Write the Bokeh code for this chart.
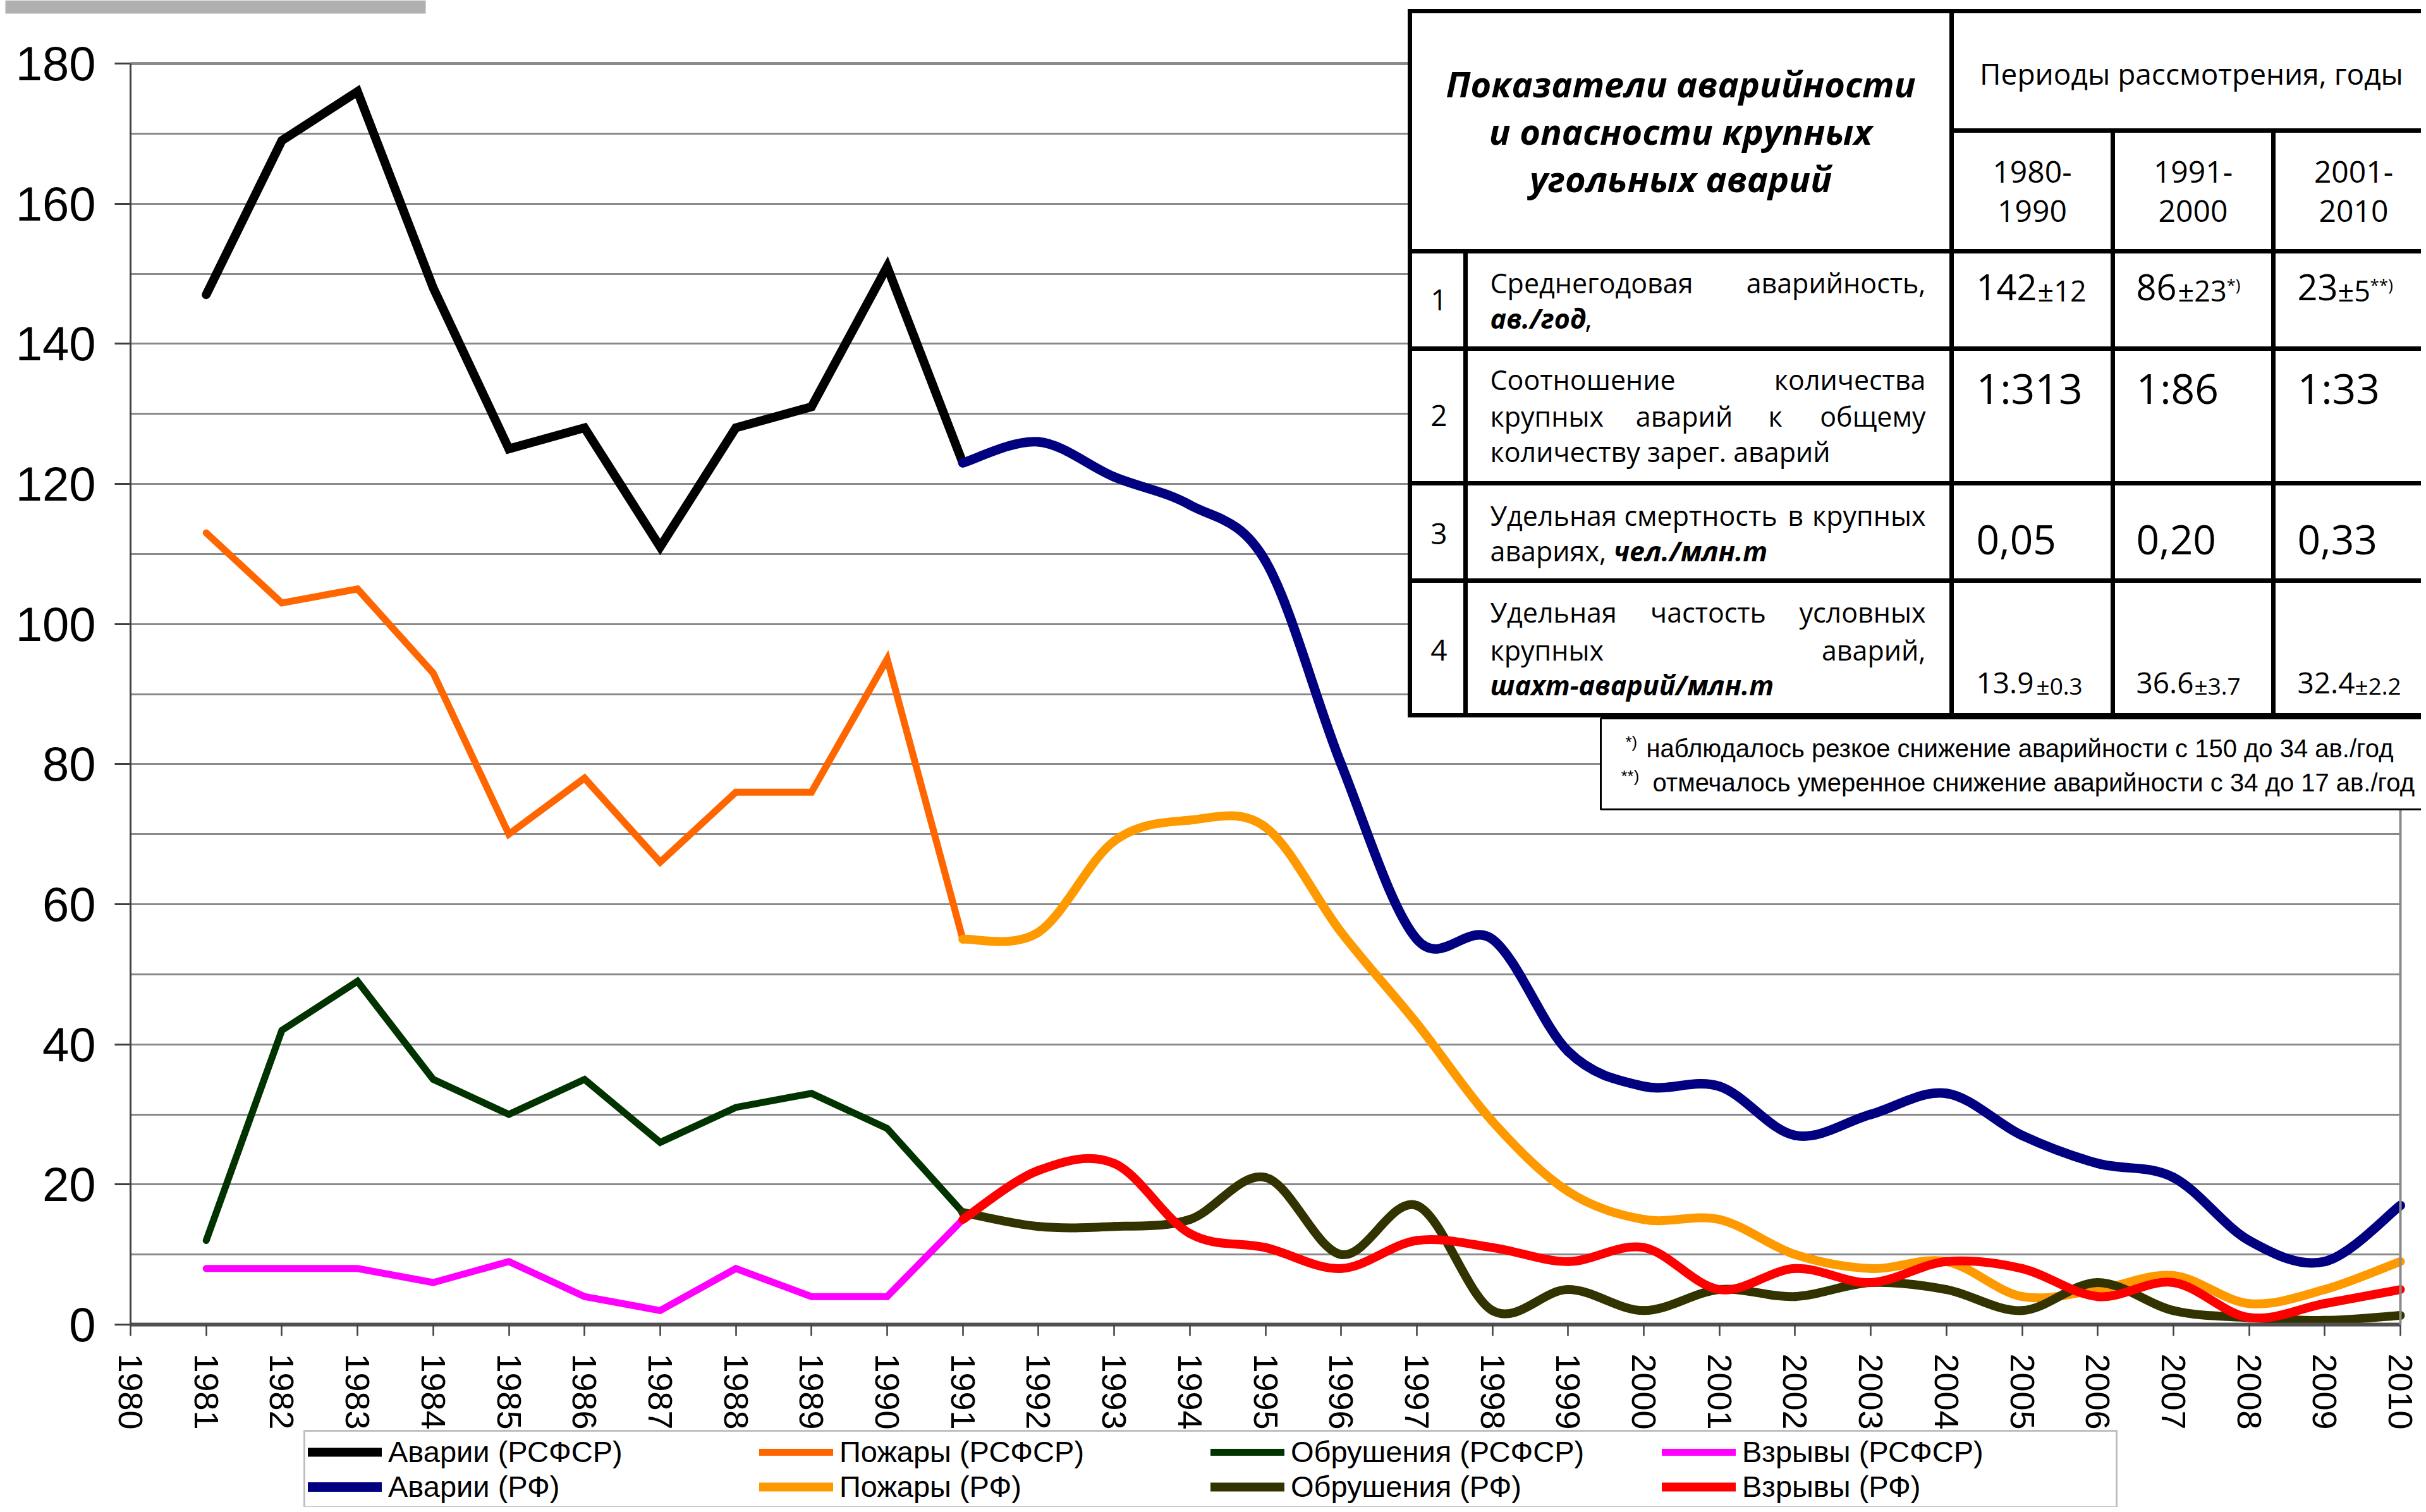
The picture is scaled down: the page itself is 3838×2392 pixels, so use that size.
from bokeh.plotting import figure
from bokeh.models import (Range1d, FixedTicker, Label, BoxAnnotation, Legend,
                          LegendItem, ColumnDataSource, LinearAxis)
from bokeh.embed import file_html
from bokeh.resources import INLINE

# ---------------- data ----------------
years_rsfsr = [1981, 1982, 1983, 1984, 1985, 1986, 1987, 1988, 1989, 1990, 1991]
years_rf = [1991, 1992, 1993, 1994, 1995, 1996, 1997, 1998, 1999, 2000,
            2001, 2002, 2003, 2004, 2005, 2006, 2007, 2008, 2009, 2010]

avarii_rsfsr = [147, 169, 176, 148, 125, 128, 111, 128, 131, 151, 123]
pozhary_rsfsr = [113, 103, 105, 93, 70, 78, 66, 76, 76, 95, 55]
obrush_rsfsr = [12, 42, 49, 35, 30, 35, 26, 31, 33, 28, 16]
vzryvy_rsfsr = [8, 8, 8, 6, 9, 4, 2, 8, 4, 4, 15]

avarii_rf = [123, 126, 121, 117, 109, 80, 55, 55, 39, 34, 34, 27, 30, 33, 27, 23, 21, 12, 9, 17]
pozhary_rf = [55, 56, 69, 72, 71, 56, 43, 29, 19, 15, 15, 10, 8, 9, 4, 5, 7, 3, 5, 9]
obrush_rf = [16, 14, 14, 15, 21, 10, 17, 2, 5, 2, 5, 4, 6, 5, 2, 6, 2, 1, 0.6, 1.3]
vzryvy_rf = [15, 22, 23, 13, 11, 8, 12, 11, 9, 11, 5, 8, 6, 9, 8, 4, 6, 1, 3, 5]

series_labels = ["Аварии (РСФСР)", "Пожары (РСФСР)", "Обрушения (РСФСР)", "Взрывы (РСФСР)",
                 "Аварии (РФ)", "Пожары (РФ)", "Обрушения (РФ)", "Взрывы (РФ)"]

x_ticks = list(range(1980, 2011))
y_ticks = [0, 20, 40, 60, 80, 100, 120, 140, 160, 180]
y_grid_ticks = list(range(0, 181, 10))

table_title = ["Показатели аварийности", "и опасности крупных", "угольных аварий"]
table_period = "Периоды рассмотрения, годы"
table_years = [("1980-", "1990"), ("1991-", "2000"), ("2001-", "2010")]
row1_vals = [("142", "±12", ""), ("86", "±23", "*)"), ("23", "±5", "**)")]
row2_vals = ["1:313", "1:86", "1:33"]
row3_vals = ["0,05", "0,20", "0,33"]
row4_vals = [("13.9", "±0.3"), ("36.6", "±3.7"), ("32.4", "±2.2")]
footnotes = [("*)", "наблюдалось резкое снижение аварийности с 150 до 34 ав./год"),
             ("**)", "отмечалось умеренное снижение аварийности с 34 до 17 ав./год")]

# ---------------- layout (page pixels; the frame covers the whole canvas) ----------------
W, H = 3830, 2384
AX_L, AX_R, AX_T, AX_B = 206, 3797, 100, 2095   # where 1980/2010 and 180/0 sit
ppx = (AX_R - AX_L) / (x_ticks[-1] - x_ticks[0])
ppy = (AX_B - AX_T) / (y_ticks[-1] - y_ticks[0])

p = figure(width=W, height=H,
           x_range=Range1d(x_ticks[0] - AX_L / ppx, x_ticks[0] + (W - AX_L) / ppx),
           y_range=Range1d(-(H - AX_B) / ppy, y_ticks[-1] + AX_T / ppy),
           output_backend="svg", toolbar_location=None,
           min_border_left=0, min_border_right=0, min_border_top=0, min_border_bottom=0)
p.background_fill_color = "white"
p.border_fill_color = "white"
p.outline_line_color = None

GRID_COL = "#8a8a8a"
yg = p.ygrid[0]
yg.ticker = FixedTicker(ticks=y_grid_ticks)
yg.bounds = (y_ticks[0], y_ticks[-1])
yg.grid_line_color = GRID_COL
yg.grid_line_width = 3
if "cross_bounds" in yg.properties():
    yg.cross_bounds = (x_ticks[0], x_ticks[-1])
else:
    yg.visible = False
    n = len(y_grid_ticks)
    p.segment(x0=[x_ticks[0]] * n, x1=[x_ticks[-1]] * n, y0=y_grid_ticks, y1=y_grid_ticks,
              line_color=GRID_COL, line_width=3, level="underlay")
p.xgrid.visible = False

ya = p.yaxis[0]
ya.fixed_location = x_ticks[0]
ya.bounds = (y_ticks[0], y_ticks[-1])
ya.ticker = FixedTicker(ticks=y_ticks)
ya.axis_line_color = "#404040"
ya.axis_line_width = 3
ya.major_tick_line_color = "#404040"
ya.major_tick_line_width = 3
ya.major_tick_out = 25
ya.major_tick_in = 0
ya.minor_tick_line_color = None
ya.major_label_standoff = 30
ya.major_label_text_font = "Liberation Sans"
ya.major_label_text_font_size = "76px"
ya.major_label_text_color = "black"

xa = p.xaxis[0]
xa.fixed_location = y_ticks[0]
xa.bounds = (x_ticks[0], x_ticks[-1])
xa.ticker = FixedTicker(ticks=x_ticks)
xa.axis_line_color = "#505050"
xa.axis_line_width = 6
xa.major_tick_line_color = "#404040"
xa.major_tick_line_width = 2.5
xa.major_tick_out = 18
xa.major_tick_in = 0
xa.minor_tick_line_color = None
xa.major_label_orientation = "vertical"
xa.major_label_standoff = 28
xa.major_label_text_font = "Liberation Sans"
xa.major_label_text_font_size = "54px"
xa.major_label_text_color = "black"

# plot-area border on top and right
top_border = LinearAxis(fixed_location=y_ticks[-1], bounds=(x_ticks[0], x_ticks[-1]),
                        ticker=FixedTicker(ticks=[]), axis_line_color=GRID_COL,
                        axis_line_width=5, major_tick_line_color=None,
                        minor_tick_line_color=None)
p.add_layout(top_border, "above")
right_border = LinearAxis(fixed_location=x_ticks[-1], bounds=(y_ticks[0], y_ticks[-1]),
                          ticker=FixedTicker(ticks=[]), axis_line_color=GRID_COL,
                          axis_line_width=4, major_tick_line_color=None,
                          minor_tick_line_color=None)
p.add_layout(right_border, "right")


def bezier_source(xs, ys):
    n = len(xs)
    d = {k: [] for k in ("x0", "y0", "x1", "y1", "cx0", "cy0", "cx1", "cy1")}
    for i in range(n - 1):
        im, ip = max(i - 1, 0), min(i + 2, n - 1)
        d["x0"].append(xs[i]); d["y0"].append(ys[i])
        d["x1"].append(xs[i + 1]); d["y1"].append(ys[i + 1])
        d["cx0"].append(xs[i] + (xs[i + 1] - xs[im]) / 6)
        d["cy0"].append(ys[i] + (ys[i + 1] - ys[im]) / 6)
        d["cx1"].append(xs[i + 1] - (xs[ip] - xs[i]) / 6)
        d["cy1"].append(ys[i + 1] - (ys[ip] - ys[i]) / 6)
    return ColumnDataSource(d)


rsfsr = [(avarii_rsfsr, "#000000", 14), (pozhary_rsfsr, "#FF6600", 11),
         (obrush_rsfsr, "#003300", 11), (vzryvy_rsfsr, "#FF00FF", 11)]
rf = [(avarii_rf, "#000080", 15), (pozhary_rf, "#FF9900", 14),
      (obrush_rf, "#333300", 14), (vzryvy_rf, "#FF0000", 14)]

renderers = []
for vals, col, lw in rsfsr:
    r = p.line(years_rsfsr, vals, line_color=col, line_width=lw,
               line_cap="round", line_join="miter")
    renderers.append(r)
for vals, col, lw in rf:
    r = p.bezier(x0="x0", y0="y0", x1="x1", y1="y1", cx0="cx0", cy0="cy0",
                 cx1="cx1", cy1="cy1", source=bezier_source(years_rf, vals),
                 line_color=col, line_width=lw, line_cap="round")
    renderers.append(r)


# ---------------- helpers (screen units: frame == canvas) ----------------
def sx(X):
    return X


def sy(Y):
    return H - Y


def box(x0, x1, y0, y1, fill="black", line=None, lw=0):
    b = BoxAnnotation(left=sx(x0), right=sx(x1), top=sy(y0), bottom=sy(y1),
                      left_units="screen", right_units="screen",
                      top_units="screen", bottom_units="screen",
                      fill_color=fill, fill_alpha=1.0,
                      line_color=line, line_width=lw, line_alpha=1.0)
    p.add_layout(b)


def text(t, X, B, size, style="normal", align="left", font="Open Sans"):
    # B is the wanted baseline; the label anchor sits at the middle of the text box
    k = 0.385 if font == "Open Sans" else 0.35
    p.add_layout(Label(x=sx(X), y=sy(B - k * size), x_units="screen", y_units="screen",
                       text=t, text_font=font, text_font_size=f"{size}px",
                       text_font_style=style, text_align=align,
                       text_baseline="alphabetic", text_color="black"))


# top-left gray strip
box(8, 673, 0, 21, fill="#b0b0b0")

# ---------------- table ----------------
TL, TT, TB, TR = 2230, 17, 1131, 3850
C1, C2, C3, C4 = 2318, 3087, 3342, 3596
H1, H2, R1, R2, R3 = 206, 397, 551, 764, 918
LW = 7
h = LW / 2

box(TL, TR + 50, TT, TB, fill="white")
box(2532, TR + 100, TB + 5, 1280, fill="white", line="black", lw=3)

box(TL - h, TR, TT - h, TT + h)
box(C2, TR, H1 - h, H1 + h)
for yy in (H2, R1, R2, R3, TB):
    box(TL - h, TR, yy - h, yy + h)
box(TL - h, TL + h, TT - h, TB + h)
box(C1 - h, C1 + h, H2, TB)
box(C2 - h, C2 + h, TT, TB)
box(C3 - h, C3 + h, H1, TB)
box(C4 - h, C4 + h, H1, TB)

tcx = (TL + C2) / 2
for t, bl in zip(table_title, (153, 228, 303)):
    text(t, tcx, bl, 56, "bold italic", "center")
text(table_period, (C2 + TR) / 2 - 2, 133, 46, "normal", "center")
col_centers = [(C2 + C3) / 2, (C3 + C4) / 2, (C4 + TR) / 2]
for (a, b), cx in zip(table_years, col_centers):
    text(a, cx, 290, 48, "normal", "center")
    text(b, cx, 352, 48, "normal", "center")

for num, bl in zip(("1", "2", "3", "4"), (492, 675, 862, 1046)):
    text(num, 2276, bl, 46, "normal", "center")

DL, DR = 2357, 3046
text("Среднегодовая", DL, 464, 43)
text("аварийность,", DR, 464, 43, align="right")
text("ав./год", DL, 520, 43, "bold italic")
text(",", 2507, 520, 43)

text("Соотношение", DL, 617, 43)
text("количества", DR, 617, 43, align="right")
text("крупных", DL, 675, 43)
text("аварий", 2664, 675, 43, align="center")
text("к", 2808, 675, 43, align="center")
text("общему", DR, 675, 43, align="right")
text("количеству зарег. аварий", DL, 731, 43)

text("Удельная", DL, 832, 43)
text("смертность", 2690, 832, 43, align="center")
text("в", 2840, 832, 43, align="center")
text("крупных", DR, 832, 43, align="right")
text("авариях,", DL, 888, 43)
text("чел./млн.т", 2552, 888, 43, "bold italic")

text("Удельная", DL, 985, 43)
text("частость", 2702, 985, 43, align="center")
text("условных", DR, 985, 43, align="right")
text("крупных", DL, 1045, 43)
text("аварий,", DR, 1045, 43, align="right")
text("шахт-аварий/млн.т", DL, 1100, 43, "bold italic")

val_x = [3126, 3379, 3634]
small_x1 = [3223, 3445, 3698]
sup_x1 = [3522, 3522, 3749]
for (big, sm, sup), x0, x1, x2 in zip(row1_vals, val_x, small_x1, sup_x1):
    text(big, x0, 476, 56)
    text(sm, x1, 476, 45)
    if sup:
        text(sup, x2, 460, 26)
for v, x0 in zip(row2_vals, val_x):
    text(v, x0, 638, 66)
for v, x0 in zip(row3_vals, val_x):
    text(v, x0, 878, 64)
small_x4 = [3221, 3471, 3725]
for (big, sm), x0, x1 in zip(row4_vals, val_x, small_x4):
    text(big, x0, 1098, 46)
    text(sm, x1, 1098, 37)

for (mark, t), bl, mx, tx in zip(footnotes, (1197, 1251), (2571, 2564), (2604, 2614)):
    text(mark, mx, bl - 14, 26, font="Liberation Sans")
    text(t, tx, bl, 40, font="Liberation Sans")

# ---------------- legend ----------------
LEG_BOTTOM, LEG_LEFT, LEG_PAD = 2386, 480, 4
items = [LegendItem(label=lab, renderers=[r]) for lab, r in zip(series_labels, renderers)]
legend = Legend(items=items, orientation="horizontal", ncols=4,
                location=(sx(LEG_LEFT), sy(LEG_BOTTOM)),
                glyph_width=117, glyph_height=36, label_standoff=10,
                label_width=587, label_height=36, spacing=0, padding=LEG_PAD, margin=0,
                label_text_font="Liberation Sans", label_text_font_size="47px",
                label_text_line_height=1.0, label_text_color="black",
                border_line_color="#808080", border_line_width=3,
                background_fill_color="white", background_fill_alpha=1.0)
p.add_layout(legend, "center")

open("out.html", "w").write(file_html(p, INLINE))
